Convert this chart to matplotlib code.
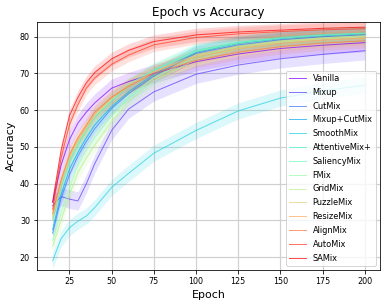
import numpy as np
import matplotlib
matplotlib.use("Agg")
import matplotlib.pyplot as plt

epochs = [15, 20, 25, 30, 35, 40, 50, 60, 75, 100, 125, 150, 175, 200]

methods = ["Vanilla", "Mixup", "CutMix", "Mixup+CutMix", "SmoothMix", "AttentiveMix+",
           "SaliencyMix", "FMix", "GridMix", "PuzzleMix", "ResizeMix", "AlignMix",
           "AutoMix", "SAMix"]

vanilla = [35, 45, 52, 56.5, 59.5, 62, 66, 67.8, 70, 73.2, 75.3, 76.8, 77.7, 78.4]
mixup = [34, 36.5, 35.8, 35.3, 40, 45.5, 54.5, 60.3, 65, 69.8, 72.3, 74, 75.2, 76.2]
cutmix = [26.5, 36, 42.5, 47.5, 51.5, 55, 60.5, 64.5, 69.3, 75.5, 77.8, 79.2, 80.0, 80.5]
mixup_cutmix = [27.5, 37, 44, 48.5, 52.5, 56, 61, 65, 69.8, 75.8, 78.2, 79.5, 80.3, 80.8]
smoothmix = [19, 25, 28, 29.8, 31.2, 33.5, 39, 42.8, 48.3, 54.5, 59.8, 63.3, 65.3, 66.8]
attentivemix = [30, 39, 46, 50.5, 54.5, 58, 62.5, 66.5, 70.8, 76.3, 78.5, 79.8, 80.6, 81.0]
saliencymix = [31, 40, 46.5, 51, 55, 58.5, 63, 67, 71, 76, 78.3, 79.6, 80.4, 80.9]
fmix = [24.5, 32, 39, 45, 49, 52.5, 58.5, 63.5, 68.8, 74.5, 77.3, 78.8, 79.7, 80.3]
gridmix = [23, 30, 37, 43, 47, 50.5, 57, 62.5, 68, 73.8, 76.8, 78.5, 79.4, 80.0]
puzzlemix = [30.5, 40, 47, 51.5, 55, 58.5, 63, 66.5, 70.5, 75, 77.3, 78.7, 79.5, 80.0]
resizemix = [31.5, 40.5, 47.5, 52, 55.5, 59, 63.5, 66.8, 70.5, 74.5, 76.8, 78.2, 79.1, 79.6]
alignmix = [32, 41, 48, 52.5, 56, 59.5, 63.5, 66.5, 70, 73.6, 75.8, 77.3, 78.3, 78.9]
automix = [33, 47, 56, 61.5, 66, 68.8, 72.5, 75, 77.8, 79.8, 80.8, 81.4, 81.9, 82.2]
samix = [35, 49, 58.5, 63.5, 67.5, 70.3, 74, 76.3, 78.7, 80.5, 81.3, 81.8, 82.3, 82.6]

# spread of the shaded band for each method
spread = [2.5, 2.5, 2.0, 2.0, 2.2, 2.0, 2.0, 2.0, 2.0, 2.0, 2.0, 2.0, 1.8, 1.8]

series = [vanilla, mixup, cutmix, mixup_cutmix, smoothmix, attentivemix, saliencymix,
          fmix, gridmix, puzzlemix, resizemix, alignmix, automix, samix]

colors = plt.cm.rainbow(np.linspace(0, 1, len(methods)))

fig = plt.figure(figsize=(389 / 72, 306 / 72), dpi=72)
ax = fig.add_axes([37 / 389, 1 - 270 / 306, 343 / 389, 248.3 / 306])

x = np.array(epochs)
for name, vals, s, c in zip(methods, series, spread, colors):
    y = np.array(vals)
    ax.plot(x, y, color=c, lw=1.0, alpha=0.7, label=name)
    ax.fill_between(x, y - s, y + s, color=c, alpha=0.15, lw=0)

ax.set_xlim(5.75, 209)
ax.set_ylim(16.5, 84.1)
ax.set_xticks([25, 50, 75, 100, 125, 150, 175, 200])
ax.set_yticks([20, 30, 40, 50, 60, 70, 80])
ax.tick_params(labelsize=8)
ax.grid(True, color="#d0d0d0", lw=1.2)
ax.set_axisbelow(True)
ax.set_title("Epoch vs Accuracy", fontsize=12)
ax.set_xlabel("Epoch", fontsize=11)
ax.set_ylabel("Accuracy", fontsize=11)
ax.legend(loc="lower right", fontsize=8.3, labelspacing=0.58)

fig.savefig("out.png", dpi=72)
